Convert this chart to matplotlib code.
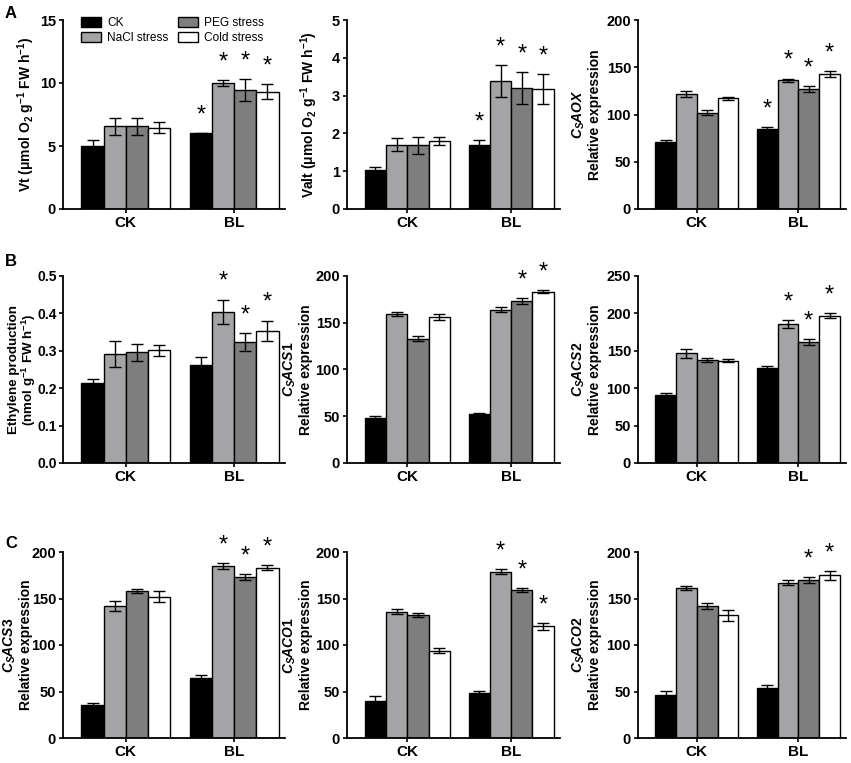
import matplotlib
matplotlib.use('Agg')
import matplotlib.pyplot as plt
import numpy as np

plt.rcParams['font.family'] = ['Liberation Sans', 'DejaVu Sans']
plt.rcParams['mathtext.fontset'] = 'custom'
plt.rcParams['mathtext.rm'] = 'Liberation Sans:bold'
plt.rcParams['mathtext.it'] = 'Liberation Sans:bold:italic'
plt.rcParams['mathtext.bf'] = 'Liberation Sans:bold'

# x categories and the four treatments
groups = ['CK', 'BL']
treatments = ['CK', 'NaCl stress', 'PEG stress', 'Cold stress']
colors = ['#000000', '#a4a4a7', '#7e7e7e', '#ffffff']

# A - Vt
vt_mean = [[5.0, 6.55, 6.55, 6.45], [6.0, 10.0, 9.45, 9.3]]
vt_err = [[0.45, 0.7, 0.65, 0.45], [0.03, 0.25, 0.85, 0.6]]
vt_star = [[0, 0, 0, 0], [1, 1, 1, 1]]

# A - Valt
valt_mean = [[1.03, 1.7, 1.68, 1.8], [1.68, 3.38, 3.2, 3.17]]
valt_err = [[0.08, 0.17, 0.23, 0.1], [0.15, 0.42, 0.42, 0.4]]
valt_star = [[0, 0, 0, 0], [1, 1, 1, 1]]

# A - CsAOX
aox_mean = [[71, 122, 102, 117], [85, 136, 127, 143]]
aox_err = [[2, 3, 3, 2], [2, 2, 3, 3]]
aox_star = [[0, 0, 0, 0], [1, 1, 1, 1]]

# B - ethylene
eth_mean = [[0.215, 0.292, 0.296, 0.301], [0.262, 0.404, 0.323, 0.354]]
eth_err = [[0.01, 0.035, 0.023, 0.015], [0.022, 0.033, 0.024, 0.027]]
eth_star = [[0, 0, 0, 0], [0, 1, 1, 1]]

# B - CsACS1
acs1_mean = [[48, 159, 133, 156], [52, 164, 173, 183]]
acs1_err = [[2, 2, 3, 3], [2, 3, 3, 1.5]]
acs1_star = [[0, 0, 0, 0], [0, 0, 1, 1]]

# B - CsACS2
acs2_mean = [[91, 147, 138, 137], [127, 186, 162, 197]]
acs2_err = [[3, 6, 3, 1.5], [3, 5, 4, 3]]
acs2_star = [[0, 0, 0, 0], [0, 1, 1, 1]]

# C - CsACS3
acs3_mean = [[35, 142, 158, 152], [64, 185, 173, 183]]
acs3_err = [[3, 5, 2, 6], [4, 3, 3, 2.5]]
acs3_star = [[0, 0, 0, 0], [0, 1, 1, 1]]

# C - CsACO1
aco1_mean = [[40, 136, 132, 94], [48, 179, 159, 120]]
aco1_err = [[5, 3, 2, 3], [3, 3, 2, 4]]
aco1_star = [[0, 0, 0, 0], [0, 1, 1, 1]]

# C - CsACO2
aco2_mean = [[46, 161, 142, 132], [54, 167, 170, 175]]
aco2_err = [[5, 2, 3, 6], [3, 3, 3, 5]]
aco2_star = [[0, 0, 0, 0], [0, 0, 1, 1]]

# panel info: data, y ticks, y label
panels = [
    (vt_mean, vt_err, vt_star, [0, 5, 10, 15], 'Vt (μmol O$_2$ g$^{-1}$ FW h$^{-1}$)'),
    (valt_mean, valt_err, valt_star, [0, 1, 2, 3, 4, 5], 'Valt (μmol O$_2$ g$^{-1}$ FW h$^{-1}$)'),
    (aox_mean, aox_err, aox_star, [0, 50, 100, 150, 200], '$\\mathit{C_SAOX}$\nRelative expression'),
    (eth_mean, eth_err, eth_star, [0.0, 0.1, 0.2, 0.3, 0.4, 0.5], 'Ethylene production\n(nmol g$^{-1}$ FW h$^{-1}$)'),
    (acs1_mean, acs1_err, acs1_star, [0, 50, 100, 150, 200], '$\\mathit{C_SACS1}$\nRelative expression'),
    (acs2_mean, acs2_err, acs2_star, [0, 50, 100, 150, 200, 250], '$\\mathit{C_SACS2}$\nRelative expression'),
    (acs3_mean, acs3_err, acs3_star, [0, 50, 100, 150, 200], '$\\mathit{C_SACS3}$\nRelative expression'),
    (aco1_mean, aco1_err, aco1_star, [0, 50, 100, 150, 200], '$\\mathit{C_SACO1}$\nRelative expression'),
    (aco2_mean, aco2_err, aco2_star, [0, 50, 100, 150, 200], '$\\mathit{C_SACO2}$\nRelative expression'),
]

W, H = 851, 763
col_px = [(63, 285), (347, 560), (638, 846)]
row_px = [(20, 209), (276, 463), (552, 738)]
label_x = [-0.117, -0.127, -0.173, -0.113, -0.16, -0.173, -0.135, -0.16, -0.173]

fig = plt.figure(figsize=(W / 100, H / 100), dpi=100)

bw = 0.205
x = np.arange(len(groups))
axes = []
for i, (mean, err, star, yt, ylab) in enumerate(panels):
    r, c = divmod(i, 3)
    l, rr = col_px[c]
    t, b = row_px[r]
    ax = fig.add_axes([l / W, 1 - b / H, (rr - l) / W, (b - t) / H])
    axes.append(ax)
    mean = np.array(mean)
    err = np.array(err)
    ymax = yt[-1]
    for k in range(len(treatments)):
        xs = x + (k - 1.5) * bw
        ax.bar(xs, mean[:, k], bw, color=colors[k], edgecolor='black', linewidth=1.0,
               label=treatments[k], zorder=2)
        ax.errorbar(xs, mean[:, k], yerr=err[:, k], fmt='none', ecolor='black',
                    elinewidth=1.0, capsize=4, capthick=1.0, zorder=3)
        for g in range(len(groups)):
            if star[g][k]:
                ax.text(xs[g], mean[g, k] + err[g, k] + 0.035 * ymax, '*',
                        ha='center', va='bottom', fontsize=17)
    ax.set_xlim(-0.58, 1.47)
    ax.set_ylim(0, ymax)
    ax.set_yticks(yt)
    if isinstance(yt[1], float):
        ax.set_yticklabels(['%.1f' % v for v in yt])
    ax.set_xticks(x)
    ax.set_xticklabels(groups)
    for s in ['top', 'right']:
        ax.spines[s].set_visible(False)
    for s in ['left', 'bottom']:
        ax.spines[s].set_linewidth(1.3)
    ax.tick_params(axis='both', width=1.2, length=3, labelsize=10.5, pad=2)
    ax.tick_params(axis='x', labelsize=11)
    if i == 3:
        ax.tick_params(axis='y', labelsize=10, pad=1.5)
    for lab in ax.get_xticklabels() + ax.get_yticklabels():
        lab.set_fontweight('bold')
    if i == 3:
        ax.set_ylabel(ylab, fontsize=9.6, fontweight='bold', linespacing=1.0)
    else:
        ax.set_ylabel(ylab, fontsize=10, fontweight='bold', linespacing=1.1)
    ax.yaxis.set_label_coords(label_x[i], 0.5)

leg = axes[0].legend(ncol=2, loc='upper left', bbox_to_anchor=(0.06, 1.04), frameon=False,
                     fontsize=8.6, handlelength=1.7, handleheight=0.9, columnspacing=0.8,
                     labelspacing=0.2, borderaxespad=0, handletextpad=0.5)

for letter, yp in [('A', 13), ('B', 261), ('C', 543)]:
    fig.text(5 / W, 1 - yp / H, letter, fontsize=12, fontweight='bold',
             va='center', ha='left')

fig.savefig('out.png', dpi=100)
